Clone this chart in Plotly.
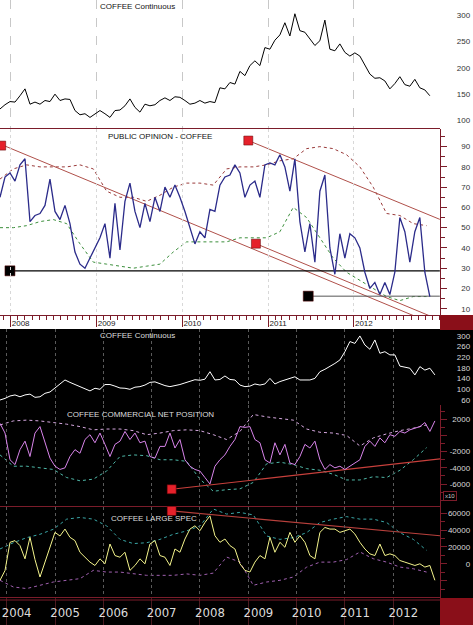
import pandas as pd
import plotly.graph_objects as go

# ---------------- DATA ----------------
# top section (samples ~3 weeks apart, starting mid-Nov 2007)
coffee_top = [122, 130, 136, 135, 147, 160, 131, 135, 131, 138,
              136, 150, 138, 141, 140, 119, 111, 113, 106, 113,
              119, 113, 106, 119, 120, 128, 141, 125, 116, 131,
              128, 130, 138, 143, 138, 145, 144, 138, 131, 133,
              138, 133, 136, 134, 162, 160, 172, 169, 193, 185,
              204, 213, 204, 238, 235, 252, 262, 285, 260, 302,
              270, 267, 255, 242, 251, 290, 235, 232, 245, 229,
              222, 228, 222, 206, 188, 180, 181, 175, 160, 170,
              183, 168, 165, 178, 162, 158, 147]

public_opinion = [65, 75, 77, 73, 81, 84, 53, 56, 57, 61,
                  74, 58, 54, 61, 52, 38, 32, 30, 35, 40,
                  45, 52, 35, 62, 39, 63, 72, 58, 50, 62,
                  53, 65, 58, 70, 65, 71, 65, 58, 50, 42,
                  48, 45, 59, 58, 71, 75, 76, 81, 77, 65,
                  71, 73, 65, 81, 82, 81, 86, 80, 68, 84,
                  53, 38, 52, 33, 68, 76, 40, 27, 47, 35,
                  47, 45, 40, 28, 20, 23, 17, 23, 17, 28,
                  55, 48, 33, 48, 55, 28, 16]

opinion_upper = [74, 79, 81, 80, 80, 80, 81, 79, 68, 65, 65, 63, 66, 70, 72, 72, 71,
                 79, 80, 80, 81, 83, 84, 89, 90, 89, 86, 80, 70, 57, 56, 52, 51]
opinion_lower = [50, 50, 51, 53, 54, 52, 42, 33, 32, 31, 30, 31, 32, 38, 43, 43, 43,
                 43, 45, 45, 45, 48, 60, 55, 45, 35, 28, 24, 20, 16, 14, 16, 16]

# trend / support lines on the opinion panel: (decimal year, value)
opinion_trend_a = [(2007.876, 91.3), (2013.0, 1.2)]
opinion_trend_b = [(2010.858, 42.1), (2013.0, 4.4)]
opinion_trend_c = [(2010.769, 93.0), (2013.0, 54.1)]
opinion_support_1 = [(2007.992, 28.7), (2013.0, 28.7)]
opinion_support_2 = [(2011.468, 16.2), (2013.0, 16.2)]
opinion_marker_start = (2007.89, 90.5)

# bottom section (samples ~5.4 weeks apart, starting Nov 2003)
coffee_bottom = [60, 66, 75, 79, 72, 79, 82, 70, 72, 85,
                 90, 104, 120, 135, 126, 118, 110, 102, 94, 104,
                 100, 118, 118, 112, 105, 104, 100, 108, 110, 116,
                 126, 128, 120, 114, 110, 113, 118, 124, 130, 136,
                 134, 138, 166, 135, 137, 150, 137, 135, 116, 110,
                 112, 120, 116, 120, 141, 120, 129, 135, 141, 147,
                 135, 135, 135, 141, 166, 175, 185, 197, 210, 241,
                 279, 272, 300, 266, 250, 285, 235, 241, 229, 229,
                 187, 182, 179, 154, 185, 172, 179, 154]

commercial_net = [1500, 300, -3000, -3600, -1750, -700, -2600, 300, 1100, -900,
                  -2800, -3800, -4200, -4000, -2600, -1750, -2200, -500, 100, -900,
                  300, -1100, -2600, -1100, -700, 500, -500, 300, -900, -700,
                  -2600, -2800, -1350, -1350, 300, -1550, -500, -3000, -3800, -4200,
                  -4400, -5200, -6000, -3800, -3000, -2400, -1350, -500, 1100, 1000,
                  1100, -500, -900, -3000, -3400, -900, -2400, -1100, -3400, -3600,
                  -2600, -1100, -1550, -700, -3000, -4200, -3600, -4000, -3800, -4200,
                  -3800, -3400, -3000, -1350, -700, -1350, -300, -900, 100, -100,
                  500, 300, 700, 900, 1100, 1600, 500, 1800]
commercial_upper = [1300, 1800, 1900, 1800, 1600, 1400, 1100, 700, 800, 800, 600, 100, 300,
                    600, 700, 600, 100, -500, 500, 2600, 2300, 2100, 1900, 800, 400, 300,
                    0, -1300, -300, 200, 600, 900, 1300]
commercial_lower = [-2400, -3800, -3800, -4000, -4200, -5200, -5600, -5400, -4400, -2600,
                    -2400, -2500, -3000, -3000, -3200, -5400, -6900, -6700, -6600, -5800,
                    -3500, -3300, -3600, -4100, -4300, -4800, -5500, -5500, -5100, -5200,
                    -4300, -3000, -1500]
commercial_trend = [(2007.414, -6650), (2012.966, -2900)]

large_spec = [-19600, -8000, 25500, 27500, 21600, 5900, 31400, 5000, -15700, 2000,
              17600, 37300, 33000, 41200, 31400, 27500, 13700, 7800, 2000, -2000,
              5900, 0, 23500, 9800, 7800, 13700, -7800, -2000, 5900, 0,
              23500, 27500, 9800, 7800, -2000, 17600, 13700, 29400, 41200, 45100,
              39200, 49000, 56900, 33300, 25500, 29400, 21600, 17600, 0, -7800,
              -9800, 2000, 9800, 5900, 31400, 13700, 25500, 19600, 37300, 25500,
              33300, 25500, 9800, 5900, 37300, 43100, 41200, 41200, 37300, 39200,
              41200, 35300, 25500, 17600, 11800, 9800, 23500, 9800, 11800, 9800,
              3900, 2000, 0, -2000, 0, -3900, -2000, -19600]
spec_upper = [17600, 25000, 31000, 35000, 41000, 53000, 55000, 53000, 45000, 29000, 24000,
              25000, 29000, 35000, 39000, 45000, 65000, 59000, 61000, 58000, 33000, 29000,
              31000, 37000, 49000, 53000, 56000, 53000, 53000, 49000, 37000, 29000, 16000]
spec_lower = [-19600, -27500, -29400, -25500, -21600, -19600, -17600, -7800, -9800, -9800,
              -12000, -13700, -13700, -13700, -12000, -13700, -11000, 8000, 2000, -25500,
              -21600, -19600, -15700, -4000, 2000, 2000, 5000, 14000, 6000, 2000, -3900,
              -5900, -9800]
spec_trend = [(2007.414, 62700), (2012.966, 33300)]

top_years = [2008, 2009, 2010, 2011, 2012]
bottom_years = [2004, 2005, 2006, 2007, 2008, 2009, 2010, 2011, 2012]

# ---------------- helpers ----------------
def dyear(v):
    y = int(v)
    a = pd.Timestamp(year=y, month=1, day=1)
    b = pd.Timestamp(year=y + 1, month=1, day=1)
    return a + (b - a) * (v - y)

TOP_T0, TOP_T1 = 2007.876, 2013.002
BOT_T0, BOT_T1 = 2003.862, 2012.965
top_x = pd.date_range(dyear(TOP_T0), periods=len(coffee_top), freq=pd.Timedelta(days=21.276))
top_env_x = pd.date_range(dyear(TOP_T0), periods=len(opinion_upper), freq=pd.Timedelta(days=56.74))
bot_x = pd.date_range(dyear(BOT_T0), periods=len(coffee_bottom), freq=pd.Timedelta(days=37.78))
bot_env_x = pd.date_range(dyear(BOT_T0), periods=len(spec_upper), freq=pd.Timedelta(days=100.76))

def seg(pts):
    return [dyear(p[0]) for p in pts], [p[1] for p in pts]

W, H = 473, 625
def py(px):
    return 1 - px / H
XR = 440 / W
MAROON = '#7b1c2a'
FONT = 'Liberation Sans, Arial, sans-serif'
LABEL_POS = 0.994

fig = go.Figure()

def line(x, y, xa, ya, color, width=1, dash='solid'):
    fig.add_trace(go.Scatter(x=x, y=y, xaxis=xa, yaxis=ya, mode='lines',
                             line=dict(color=color, width=width, dash=dash),
                             hoverinfo='skip', showlegend=False))

def square(pt, xa, ya, color, size=9):
    fig.add_trace(go.Scatter(x=[dyear(pt[0])], y=[pt[1]], xaxis=xa, yaxis=ya, mode='markers',
                             marker=dict(symbol='square', size=size, color=color,
                                         line=dict(color='#5a0000', width=0.5)),
                             cliponaxis=False, hoverinfo='skip', showlegend=False))

# panel 1
line(top_x, coffee_top, 'x', 'y2', '#000000', 1)
# panel 2
line(top_env_x, opinion_upper, 'x2', 'y3', '#9a3a3a', 1, 'dot')
line(top_env_x, opinion_lower, 'x2', 'y3', '#3c8f3c', 1, 'dot')
for t in (opinion_trend_a, opinion_trend_b, opinion_trend_c):
    line(*seg(t), 'x2', 'y3', '#b0504a', 1)
line(*seg(opinion_support_1), 'x2', 'y3', '#000000', 1.3)
line(*seg(opinion_support_2), 'x2', 'y3', '#555555', 1)
line(top_x, public_opinion, 'x2', 'y4', '#2b2b8a', 1.3)
square(opinion_marker_start, 'x2', 'y3', '#e5212b')
square(opinion_trend_c[0], 'x2', 'y3', '#e5212b')
square(opinion_trend_b[0], 'x2', 'y3', '#e5212b')
square(opinion_support_1[0], 'x2', 'y3', '#000000', 10)
square(opinion_support_2[0], 'x2', 'y3', '#000000', 10)
# panel 3
line(bot_x, coffee_bottom, 'x3', 'y6', '#ffffff', 1)
# panel 4
line(bot_env_x, commercial_upper, 'x4', 'y7', '#d6a8e0', 1, 'dot')
line(bot_env_x, commercial_lower, 'x4', 'y7', '#4fb8a8', 1, 'dot')
line(*seg(commercial_trend), 'x4', 'y7', '#c8403c', 1.2)
line(bot_x, commercial_net, 'x4', 'y8', '#d884ea', 1)
square(commercial_trend[0], 'x4', 'y7', '#e5212b')
# panel 5
line(bot_env_x, spec_upper, 'x5', 'y9', '#3aa6a6', 1, 'dot')
line(bot_env_x, spec_lower, 'x5', 'y9', '#a060b0', 1, 'dot')
line(*seg(spec_trend), 'x5', 'y9', '#b8403c', 1.2)
line(bot_x, large_spec, 'x5', 'y10', '#f4f48c', 1)
square(spec_trend[0], 'x5', 'y9', '#e5212b')

# ---------------- axes ----------------
top_range = [dyear(TOP_T0), dyear(TOP_T1)]
bot_range = [dyear(BOT_T0), dyear(BOT_T1)]
top_ticks = [pd.Timestamp(year=y, month=1, day=1) for y in top_years]
bot_ticks = [pd.Timestamp(year=y, month=1, day=1) for y in bottom_years]

def xa_common(rng, ticks, anchor, grid_color, grid_dash):
    return dict(domain=[0, XR], anchor=anchor, type='date', range=rng, tickmode='array',
                tickvals=ticks, ticktext=[str(t.year) for t in ticks], showticklabels=False,
                showgrid=True, gridcolor=grid_color, griddash=grid_dash, gridwidth=1,
                zeroline=False, showline=True, linecolor=MAROON, linewidth=1, ticks='')

layout = dict(width=W, height=H, margin=dict(l=0, r=0, t=0, b=0),
              paper_bgcolor='#ffffff', plot_bgcolor='rgba(0,0,0,0)', showlegend=False,
              font=dict(family=FONT, size=8))

layout['xaxis'] = xa_common(top_range, top_ticks, 'y', '#c8c8c8', 'dash')
x2 = xa_common(top_range, top_ticks, 'y3', '#d8d8d8', 'dot')
x2.update(matches='x', showticklabels=True, ticks='outside', ticklen=11, tickcolor=MAROON,
          tickfont=dict(size=8, color='#222222', family=FONT), ticklabelshift=10,
          ticklabelstandoff=-11,
          minor=dict(ticks='outside', ticklen=4, tickcolor=MAROON, dtick='M1',
                     tick0='2008-01-01', showgrid=False))
layout['xaxis2'] = x2
layout['xaxis3'] = xa_common(bot_range, bot_ticks, 'y5', '#5a5a5a', 'dot')
x4 = xa_common(bot_range, bot_ticks, 'y7', '#5a5a5a', 'dot')
x4.update(matches='x3')
layout['xaxis4'] = x4
x5 = xa_common(bot_range, bot_ticks, 'y9', '#5a5a5a', 'dot')
x5.update(matches='x3', showticklabels=True, ticks='outside', ticklen=28, tickcolor='#4a1a20',
          tickfont=dict(size=13, color='#dcdcdc',
                        family='Liberation Sans Narrow, DejaVu Sans Condensed, Arial Narrow, sans-serif'),
          ticklabelshift=10, ticklabelstandoff=-25)
layout['xaxis5'] = x5

panels = [
    # (tick axis, label axis, x anchor, domain, range, tickvals, ticktext, minor dtick, label colour)
    ('yaxis', 'yaxis2', 'x', [py(128), py(0)], [86, 328],
     [100, 150, 200, 250, 300], None, 25, '#333333'),
    ('yaxis3', 'yaxis4', 'x2', [py(315), py(129)], [6.9, 98.7],
     [10, 20, 30, 40, 50, 60, 70, 80, 90], None, 5, '#333333'),
    ('yaxis5', 'yaxis6', 'x3', [py(404), py(329)], [45, 326],
     [60, 100, 140, 180, 220, 260, 300], None, 20, '#d8d8d8'),
    ('yaxis7', 'yaxis8', 'x4', [py(506), py(405)], [-8720, 3770],
     [2000, 0, -2000, -4000, -6000], ['2000', '', '-2000', '-4000', '-6000'], 1000, '#d8d8d8'),
    ('yaxis9', 'yaxis10', 'x5', [py(597), py(507)], [-39400, 67400],
     [60000, 40000, 20000, 0, -20000], ['60000', '40000', '20000', '0', ''], 10000, '#d8d8d8'),
]
for tick_ax, lab_ax, xanchor, dom, rng, tv, tt, mdt, lcol in panels:
    layout[tick_ax] = dict(domain=dom, anchor=xanchor, side='right', range=rng, tickmode='array',
                           tickvals=tv, showticklabels=False, ticks='outside', ticklen=6,
                           tickcolor=MAROON, showline=True, linecolor=MAROON, linewidth=1,
                           showgrid=False, zeroline=False,
                           minor=dict(tickmode='linear', tick0=0, dtick=mdt, ticks='outside',
                                      ticklen=4, tickcolor=MAROON, showgrid=False))
    layout[lab_ax] = dict(domain=dom, anchor='free', position=LABEL_POS, side='left',
                          range=rng, tickmode='array', tickvals=tv,
                          ticktext=tt if tt else [str(v) for v in tv],
                          ticks='', showline=False, showgrid=False, zeroline=False,
                          tickfont=dict(size=8, color=lcol, family=FONT))

# ---------------- decoration ----------------
DARK_RED = '#8a0f19'
layout['shapes'] = [
    dict(type='rect', xref='paper', yref='paper', x0=0, x1=1, y0=0, y1=py(329),
         fillcolor='#000000', line=dict(width=0), layer='below'),
    dict(type='rect', xref='paper', yref='paper', x0=XR, x1=1, y0=py(330), y1=py(315),
         fillcolor=DARK_RED, line=dict(width=0), layer='below'),
    dict(type='rect', xref='paper', yref='paper', x0=XR, x1=1, y0=0, y1=py(598),
         fillcolor=DARK_RED, line=dict(width=0), layer='below'),
    dict(type='line', xref='paper', yref='paper', x0=0, x1=XR, y0=py(600), y1=py(600),
         line=dict(color=MAROON, width=1)),
]

def title(text, xpx, ypx, color):
    return dict(text=text, xref='paper', yref='paper', x=xpx / W, y=py(ypx), xanchor='left',
                yanchor='middle', showarrow=False, font=dict(size=8, color=color, family=FONT))

layout['annotations'] = [
    title('COFFEE Continuous', 98, 7, '#111111'),
    title('PUBLIC OPINION - COFFEE', 106, 136, '#111111'),
    title('COFFEE Continuous', 98, 335, '#dddddd'),
    title('COFFEE COMMERCIAL NET POSITION', 65, 414, '#dddddd'),
    title('COFFEE LARGE SPEC', 109, 518, '#dddddd'),
    dict(text='x10', xref='paper', yref='paper', x=443 / W, y=py(496), xanchor='left',
         yanchor='middle', showarrow=False, font=dict(size=6, color='#cccccc', family=FONT),
         bordercolor=MAROON, borderwidth=1, borderpad=1, bgcolor='#000000'),
]

fig.update_layout(**layout)
fig.write_html('out.html', config={'displayModeBar': False},
               post_script="document.body.style.margin='0px';")
